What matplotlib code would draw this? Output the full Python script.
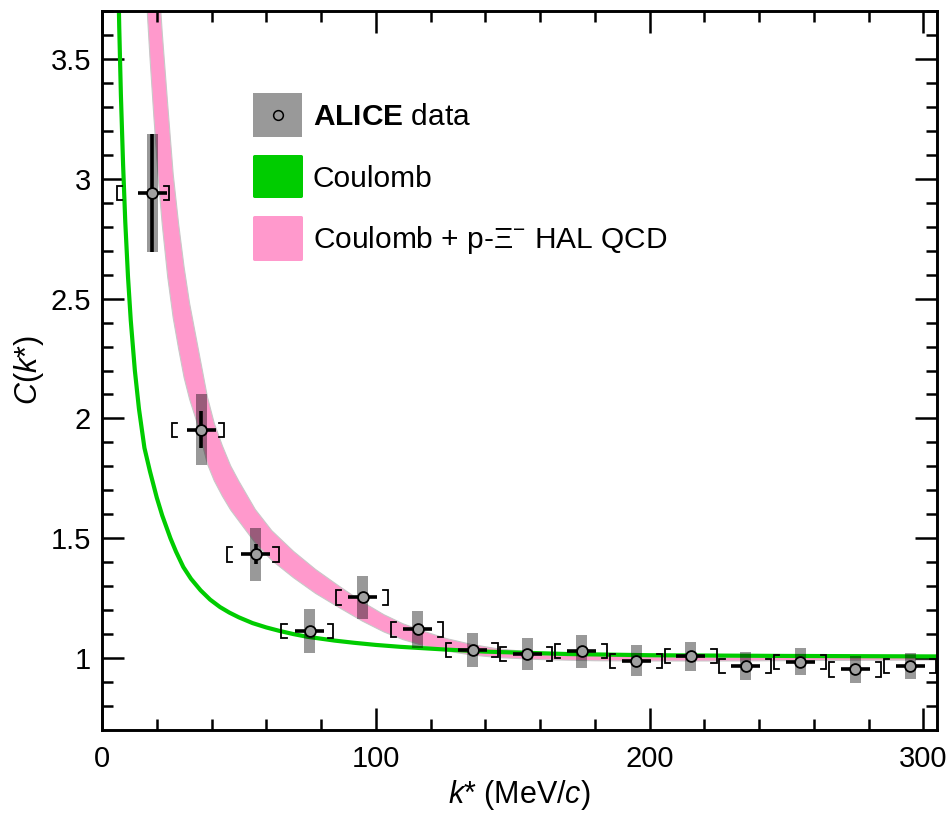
import numpy as np
import matplotlib
matplotlib.use('Agg')
import matplotlib.pyplot as plt
from matplotlib import font_manager
from matplotlib.patches import Rectangle, FancyBboxPatch
from matplotlib.lines import Line2D

# ---------------- data ----------------
k_data = [18.3, 36.2, 56.1, 75.8, 95.2, 115.3, 135.4, 155.4, 175.3, 195.1,
          215.1, 235.2, 255.0, 275.1, 295.2]
C_data = [2.94, 1.953, 1.433, 1.113, 1.253, 1.12, 1.033, 1.017, 1.029, 0.989,
          1.008, 0.967, 0.985, 0.953, 0.967]
stat_err = [0.245, 0.078, 0.042, 0.018, 0.018, 0.016, 0.015, 0.015, 0.015, 0.015,
            0.015, 0.015, 0.015, 0.015, 0.015]
box_err = [0.246, 0.149, 0.110, 0.092, 0.090, 0.078, 0.072, 0.067, 0.069, 0.064,
           0.061, 0.058, 0.056, 0.056, 0.053]
bin_centers = [15, 35, 55, 75, 95, 115, 135, 155, 175, 195, 215, 235, 255, 275, 295]
sys_err = [0.03, 0.03, 0.03, 0.03, 0.03, 0.03, 0.03, 0.03, 0.03, 0.03,
           0.03, 0.03, 0.03, 0.03, 0.03]
k_xerr = 5.3

band_k = [16, 17.5, 19, 20.5, 22, 24, 26, 28, 30, 32, 34.5, 38.5, 41, 44, 47, 50,
          56, 62, 70, 78, 86, 95, 103, 110, 118, 126, 135, 145, 160, 180, 200,
          230, 260, 305]
band_low = [3.80, 3.51, 3.25, 3.01, 2.81, 2.59, 2.42, 2.29, 2.17, 2.08, 1.99, 1.81,
            1.74, 1.675, 1.618, 1.572, 1.48, 1.408, 1.335, 1.27, 1.215, 1.155,
            1.109, 1.077, 1.05, 1.029, 1.013, 1.002, 0.994, 0.989, 0.988, 0.988,
            0.990, 0.992]
band_high = [4.80, 4.45, 4.15, 3.87, 3.61, 3.31, 3.02, 2.81, 2.63, 2.48, 2.33, 2.09,
             1.98, 1.885, 1.802, 1.738, 1.62, 1.532, 1.445, 1.37, 1.305, 1.235,
             1.181, 1.143, 1.11, 1.081, 1.057, 1.038, 1.022, 1.011, 1.006, 1.004,
             1.004, 1.004]

coul_k = [5.0, 5.6, 6.3, 6.9, 7.7, 8.5, 9.5, 10.5, 12, 13.5, 15.5, 17.5, 20, 22, 25,
          27, 29.7, 32.5, 36, 39.5, 43.1, 46.5, 50, 55, 60, 65, 70, 75, 85, 92, 100,
          109, 125, 140, 170, 200, 250, 305]
coul_C = [4.49, 4.04, 3.63, 3.35, 3.06, 2.82, 2.59, 2.41, 2.20, 2.04, 1.877, 1.78,
          1.67, 1.595, 1.50, 1.445, 1.38, 1.331, 1.283, 1.244, 1.213, 1.19, 1.170,
          1.146, 1.128, 1.113, 1.100, 1.089, 1.073, 1.064, 1.055, 1.047, 1.036,
          1.027, 1.017, 1.012, 1.009, 1.007]

x_ticks = [0, 100, 200, 300]
y_ticks = [1, 1.5, 2, 2.5, 3, 3.5]
legend_labels = [r'$\bf{ALICE}$ data', 'Coulomb', 'Coulomb + p-Ξ$^{-}$ HAL QCD']

# ---------------- style ----------------
def pick(names):
    for n in names:
        try:
            font_manager.findfont(font_manager.FontProperties(family=n),
                                  fallback_to_default=False)
            return n
        except Exception:
            pass
    return 'DejaVu Sans'

FONT = pick(['Liberation Sans Narrow', 'Liberation Sans', 'DejaVu Sans'])
plt.rcParams['font.family'] = [FONT, 'DejaVu Sans']
plt.rcParams['mathtext.fontset'] = 'custom'
plt.rcParams['mathtext.rm'] = FONT
plt.rcParams['mathtext.it'] = FONT + ':italic'
plt.rcParams['mathtext.bf'] = FONT + ':bold'

GREEN = '#00cc00'
PINK = '#ff99cc'
W, H = 949, 818

fig = plt.figure(figsize=(W / 100, H / 100), dpi=100)
ax = fig.add_axes([102 / W, 1 - 730 / H, (937 - 102) / W, (730 - 11) / H])

ax.set_xlim(0, 305)
ax.set_ylim(0.7, 3.7)

# pink band
ax.fill_between(band_k, band_low, band_high, facecolor=PINK, edgecolor='#c8c8c8',
                linewidth=0.8, zorder=1)
# green Coulomb
ax.plot(coul_k, coul_C, color=GREEN, lw=3.0, zorder=2, solid_capstyle='butt',
        solid_joinstyle='round')

# gray boxes
box_err_a = np.array(box_err)
ax.bar(k_data, 2 * box_err_a, bottom=np.array(C_data) - box_err_a, width=4.0,
       color='black', alpha=0.4, linewidth=0, zorder=3)

# brackets (systematics)
hw_b = 9.5
tip = 1.9
for c, y, s in zip(bin_centers, C_data, sys_err):
    xl = c - hw_b
    xr = c + hw_b
    ax.plot([xl + tip, xl, xl, xl + tip], [y - s, y - s, y + s, y + s],
            color='black', lw=1.3, zorder=4, solid_joinstyle='miter')
    ax.plot([xr - tip, xr, xr, xr - tip], [y - s, y - s, y + s, y + s],
            color='black', lw=1.3, zorder=4, solid_joinstyle='miter')

# data with statistical errors
ax.errorbar(k_data, C_data, yerr=stat_err, xerr=k_xerr, fmt='none',
            ecolor='black', elinewidth=2.6, capsize=0, zorder=5)
ax.plot(k_data, C_data, 'o', ms=7.8, mfc='#a0a0a0', mec='black', mew=1.3,
        zorder=6, ls='none')

# axes styling
for sp in ax.spines.values():
    sp.set_linewidth(2.1)
ax.set_xticks(x_ticks)
ax.set_xticklabels([str(t) for t in x_ticks])
ax.set_yticks(y_ticks)
ax.set_yticklabels(['%g' % t for t in y_ticks])
ax.set_xticks(np.arange(0, 305, 20), minor=True)
ax.set_yticks(np.arange(0.8, 3.71, 0.1), minor=True)
ax.tick_params(which='both', direction='in', top=True, right=True, width=1.8)
ax.tick_params(which='major', length=16)
ax.tick_params(which='minor', length=8)
ax.tick_params(axis='y', which='major', labelsize=21, pad=8)
ax.tick_params(axis='x', which='major', labelsize=21, pad=11)

# axis labels
fig.text(519 / W, 1 - 795 / H, r'$k$* (MeV/$c$)', ha='center', va='center',
         fontsize=22)
fig.text(29 / W, 1 - 370 / H, r'$C$($k$*)', ha='center', va='center',
         fontsize=22, rotation=90)

# legend (manual)
def fx(x):
    return x / W

def fy(y):
    return 1 - y / H

fig.add_artist(Rectangle((fx(253), fy(137)), fx(302) - fx(253), fy(93) - fy(137),
                         transform=fig.transFigure, facecolor='#999999',
                         edgecolor='none'))
fig.add_artist(Line2D([fx(277.5)], [fy(115)], marker='o', ms=7, mfc='#999999',
                      mec='black', mew=1.1, transform=fig.transFigure))
fig.add_artist(FancyBboxPatch((fx(253), fy(198)), fx(303) - fx(253), fy(155) - fy(198),
                              boxstyle='round,pad=0,rounding_size=0.002',
                              transform=fig.transFigure, facecolor=GREEN,
                              edgecolor='none'))
fig.add_artist(FancyBboxPatch((fx(253), fy(261)), fx(303) - fx(253), fy(216) - fy(261),
                              boxstyle='round,pad=0,rounding_size=0.002',
                              transform=fig.transFigure, facecolor=PINK,
                              edgecolor='none'))
for lab, yc in zip(legend_labels, [117, 179, 240]):
    fig.text(fx(313), fy(yc), lab, ha='left', va='center', fontsize=21.5)

fig.savefig('out.png', dpi=100)
